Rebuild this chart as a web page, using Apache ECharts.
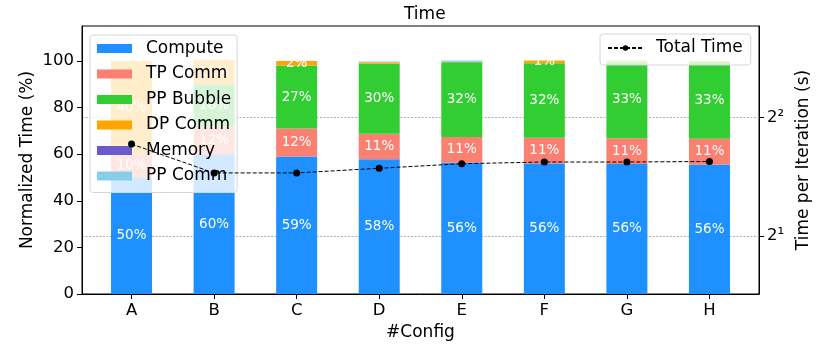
<!DOCTYPE html>
<html>
<head>
<meta charset="utf-8">
<script src="https://cdn.jsdelivr.net/npm/echarts@6/dist/echarts.min.js"></script>
<style>
  html, body { margin: 0; padding: 0; background: #fff; }
  #chart { width: 830px; height: 347px; }
</style>
</head>
<body>
<div id="chart"></div>
<script>
const categories = ["A", "B", "C", "D", "E", "F", "G", "H"];
const xPos = [0, 1, 2, 3, 4, 5, 6, 7];

// normalized time breakdown (%)
const compute = [50, 60, 59, 57.8, 56.4, 56, 55.8, 55.6];
const tpComm = [10, 12, 12, 11, 11, 11, 11, 11];
const ppBubble = [0, 18, 27, 30, 32, 32, 33, 33];
const dpComm = [40, 10.5, 2, 0.6, 0.3, 1.2, 0.4, 0.4];
const memory = [0, 0, 0, 0, 0, 0, 0, 0];
const ppComm = [0, 0, 0, 0.4, 0.5, 0, 0, 0];

// time per iteration (s), log2 axis
const totalTime = [3.42, 2.89, 2.89, 2.97, 3.05, 3.08, 3.08, 3.09];

const leftTicks = [0, 20, 40, 60, 80, 100];
const rightTicks = [2, 4];

const FONT = "DejaVu Sans";
const sup = { 1: "\u00b9", 2: "\u00b2", 3: "\u00b3" };

const chart = echarts.init(document.getElementById("chart"), null, { renderer: "canvas" });

const barSeries = (name, values, color) => ({
  name: name,
  type: "bar",
  stack: "total",
  barWidth: 41,
  xAxisIndex: 0,
  yAxisIndex: 0,
  // value first so the stack runs on y
  encode: { x: 1, y: 0 },
  data: values.map((v, i) => [v, xPos[i]]),
  itemStyle: { color: color },
  label: {
    show: true,
    position: "inside",
    color: "#fff",
    fontFamily: FONT,
    fontSize: 13.5,
    formatter: (p) => (p.value[0] >= 0.95 ? Math.round(p.value[0]) + "%" : ""),
  },
  z: 2,
});

const option = {
  animation: false,
  textStyle: { fontFamily: FONT },
  title: {
    text: "Time",
    left: 399,
    top: 1,
    textStyle: { fontFamily: FONT, fontSize: 17, fontWeight: "normal", color: "#000" },
  },
  grid: {
    left: 82,
    right: 71,
    top: 26,
    bottom: 53,
    show: true,
    borderColor: "#000",
    borderWidth: 1,
    containLabel: false,
  },
  legend: [
    {
      data: ["Compute", "TP Comm", "PP Bubble", "DP Comm", "Memory", "PP Comm"],
      orient: "vertical",
      left: 90,
      top: 35,
      padding: [5, 6, 8, 7],
      itemWidth: 35,
      itemHeight: 9,
      itemGap: 8.5,
      icon: "rect",
      backgroundColor: "rgba(255,255,255,0.8)",
      borderColor: "#d6d6d6",
      borderWidth: 1,
      borderRadius: 3,
      textStyle: { fontFamily: FONT, fontSize: 17, color: "#000", lineHeight: 17, padding: [0, 0, 0, 9] },
      z: 4,
    },
    {
      data: ["Total Time"],
      orient: "vertical",
      left: 600,
      top: 34,
      padding: [5.5, 8, 8.5, 7],
      itemWidth: 35,
      itemHeight: 7,
      backgroundColor: "rgba(255,255,255,0.8)",
      borderColor: "#d6d6d6",
      borderWidth: 1,
      borderRadius: 3,
      textStyle: { fontFamily: FONT, fontSize: 17, color: "#000", lineHeight: 17, padding: [0, 0, 0, 8] },
      z: 12,
    },
  ],
  xAxis: {
    type: "value",
    min: -0.6,
    max: 7.6,
    name: "#Config",
    nameLocation: "middle",
    nameGap: 20,
    nameTextStyle: { fontFamily: FONT, fontSize: 17, color: "#000" },
    axisLine: { show: true, onZero: false, lineStyle: { color: "#000", width: 1 } },
    axisTick: { show: true, length: 5, customValues: xPos, lineStyle: { color: "#000" } },
    axisLabel: {
      customValues: xPos,
      margin: 8,
      fontFamily: FONT,
      fontSize: 16.5,
      color: "#000",
      formatter: (v) => categories[Math.round(v)],
    },
    splitLine: { show: false },
  },
  yAxis: [
    {
      type: "value",
      position: "left",
      min: 0,
      max: 115,
      name: "Normalized Time (%)",
      nameLocation: "middle",
      nameGap: 46,
      nameMoveOverlap: false,
      nameTextStyle: { fontFamily: FONT, fontSize: 17, color: "#000" },
      axisLine: { show: true, onZero: false, lineStyle: { color: "#000", width: 1 } },
      axisTick: { show: true, length: 5, customValues: leftTicks, lineStyle: { color: "#000" } },
      axisLabel: { customValues: leftTicks, margin: 8, fontFamily: FONT, fontSize: 16.5, color: "#000" },
      splitLine: { show: false },
    },
    {
      type: "log",
      logBase: 2,
      position: "right",
      min: 1.4254,
      max: 6.815,
      name: "Time per Iteration (s)",
      nameLocation: "middle",
      nameGap: 31,
      nameTextStyle: { fontFamily: FONT, fontSize: 17, color: "#000" },
      axisLine: { show: true, onZero: false, lineStyle: { color: "#000", width: 1 } },
      axisTick: { show: true, length: 5, customValues: rightTicks, lineStyle: { color: "#000" } },
      axisLabel: {
        customValues: rightTicks,
        margin: 8,
        fontFamily: FONT,
        fontSize: 16.5,
        color: "#000",
        formatter: (v) => "2" + sup[Math.round(Math.log2(v))],
      },
      splitLine: { show: true, lineStyle: { color: "#9a9a9a", type: [2, 1.5], width: 0.8 } },
      minorTick: { show: false },
    },
  ],
  series: [
    barSeries("Compute", compute, "#1E90FF"),
    barSeries("TP Comm", tpComm, "#FA8072"),
    barSeries("PP Bubble", ppBubble, "#32CD32"),
    barSeries("DP Comm", dpComm, "#FFA500"),
    barSeries("Memory", memory, "#6A5ACD"),
    barSeries("PP Comm", ppComm, "#87CEEB"),
    {
      name: "Total Time",
      type: "line",
      xAxisIndex: 0,
      yAxisIndex: 1,
      data: totalTime.map((v, i) => [xPos[i], v]),
      symbol: "circle",
      symbolSize: 7,
      itemStyle: { color: "#000" },
      lineStyle: { color: "#000", width: 1, type: [4, 2] },
      z: 10,
    },
  ],
};

chart.setOption(option);
</script>
</body>
</html>
